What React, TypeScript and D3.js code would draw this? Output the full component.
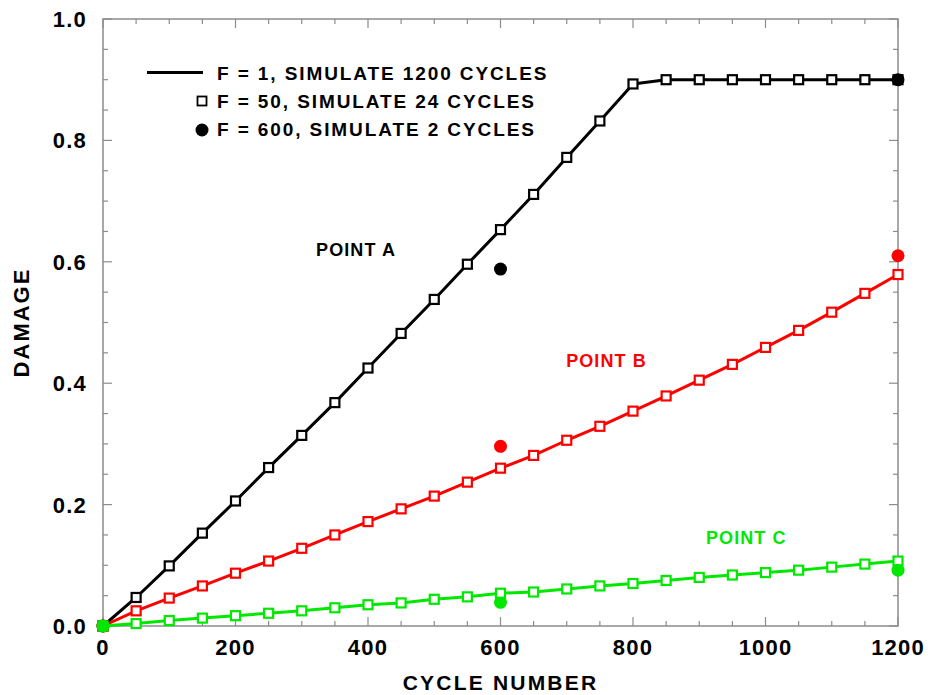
import React from 'react';
import * as d3 from 'd3';

// cycle numbers where the F = 50 results were written
const cycles = [0, 50, 100, 150, 200, 250, 300, 350, 400, 450, 500, 550, 600, 650, 700, 750, 800, 850, 900, 950, 1000, 1050, 1100, 1150, 1200];
const damageA = [0, 0.047, 0.099, 0.153, 0.206, 0.261, 0.314, 0.368, 0.425, 0.482, 0.538, 0.596, 0.653, 0.711, 0.772, 0.832, 0.893, 0.9, 0.9, 0.9, 0.9, 0.9, 0.9, 0.9, 0.9];
const damageB = [0, 0.025, 0.046, 0.066, 0.087, 0.107, 0.128, 0.15, 0.172, 0.193, 0.214, 0.237, 0.26, 0.281, 0.306, 0.329, 0.354, 0.379, 0.405, 0.431, 0.459, 0.487, 0.517, 0.548, 0.579];
const damageC = [0, 0.004, 0.009, 0.013, 0.017, 0.021, 0.025, 0.03, 0.035, 0.038, 0.044, 0.048, 0.054, 0.056, 0.061, 0.066, 0.07, 0.075, 0.08, 0.084, 0.088, 0.092, 0.097, 0.102, 0.107];

// F = 600 results
const coarseCycles = [0, 600, 1200];
const coarseA = [0, 0.588, 0.9];
const coarseB = [0, 0.296, 0.61];
const coarseC = [0, 0.039, 0.092];

const xTickLabels = [0, 200, 400, 600, 800, 1000, 1200];
const yTickLabels = [0, 0.2, 0.4, 0.6, 0.8, 1.0];
const legendLabels = ['F = 1, SIMULATE 1200 CYCLES', 'F = 50, SIMULATE 24 CYCLES', 'F = 600, SIMULATE 2 CYCLES'];

const series = [
    { name: 'POINT A', color: '#000000', fine: damageA, coarse: coarseA, labelAt: [382, 0.61] },
    { name: 'POINT B', color: '#ff0000', fine: damageB, coarse: coarseB, labelAt: [760, 0.427] },
    { name: 'POINT C', color: '#00e800', fine: damageC, coarse: coarseC, labelAt: [971, 0.135] },
];

const font = '"Liberation Sans", Arial, Helvetica, sans-serif';
const axisGray = '#8c8c8c';

export default function App() {
    const width = 930;
    const height = 695;
    const margin = { top: 19, right: 32, bottom: 69, left: 103 };

    const x = d3.scaleLinear().domain([0, 1200]).range([margin.left, width - margin.right]);
    const y = d3.scaleLinear().domain([0, 1]).range([height - margin.bottom, margin.top]);

    const line = d3.line<number>()
        .x((d, i) => x(cycles[i]))
        .y(d => y(d));

    const xMinor = d3.range(0, 1201, 50);
    const yMinor = d3.range(0, 1.0001, 0.05);
    const x0 = x(0), x1 = x(1200), y0 = y(0), y1 = y(1);
    const isMajorX = (v: number) => v % 200 === 0;
    const isMajorY = (v: number) => Math.abs(v * 5 - Math.round(v * 5)) < 1e-6;

    const sq = 9;

    return (
        <svg width={width} height={height} style={{ position: 'absolute', left: 0, top: 0, background: '#fff' }} fontFamily={font} fontWeight="bold">
            {/* frame */}
            <rect x={x0} y={y1} width={x1 - x0} height={y0 - y1} fill="none" stroke={axisGray} strokeWidth={1.5} />
            {xMinor.map(v => {
                const len = isMajorX(v) ? 9 : 5;
                return (
                    <g key={'xt' + v} stroke={axisGray} strokeWidth={1.2}>
                        <line x1={x(v)} x2={x(v)} y1={y0} y2={y0 - len} />
                        <line x1={x(v)} x2={x(v)} y1={y1} y2={y1 + len} />
                    </g>
                );
            })}
            {yMinor.map(v => {
                const len = isMajorY(v) ? 9 : 5;
                return (
                    <g key={'yt' + v} stroke={axisGray} strokeWidth={1.2}>
                        <line x1={x0} x2={x0 + len} y1={y(v)} y2={y(v)} />
                        <line x1={x1} x2={x1 - len} y1={y(v)} y2={y(v)} />
                    </g>
                );
            })}
            {xTickLabels.map(v => (
                <text key={'xl' + v} x={x(v)} y={y0 + 29} textAnchor="middle" fontSize={22} letterSpacing={1.2}>{v}</text>
            ))}
            {yTickLabels.map(v => (
                <text key={'yl' + v} x={x0 - 16} y={y(v) + 8} textAnchor="end" fontSize={22} letterSpacing={1.2}>{v.toFixed(1)}</text>
            ))}
            <text x={(x0 + x1) / 2} y={height - 5} textAnchor="middle" fontSize={21} letterSpacing={2.2}>CYCLE NUMBER</text>
            <text transform={`translate(29, ${(y0 + y1) / 2}) rotate(-90)`} textAnchor="middle" fontSize={22} letterSpacing={2}>DAMAGE</text>

            {/* series */}
            {series.map(s => (
                <g key={s.name}>
                    <path d={line(s.fine) || ''} fill="none" stroke={s.color} strokeWidth={3} strokeLinejoin="round" />
                    <circle cx={x(600)} cy={y(s.coarse[1])} r={6.5} fill={s.color} />
                    {s.fine.map((d, i) => (
                        <rect key={'s' + i} x={x(cycles[i]) - sq / 2} y={y(d) - sq / 2} width={sq} height={sq} fill="#fff" stroke={s.color} strokeWidth={2.2} />
                    ))}
                    {coarseCycles.map((c, i) => (c === 600 ? null :
                        <circle key={'d' + c} cx={x(c)} cy={y(s.coarse[i])} r={6.5} fill={s.color} />
                    ))}
                    <text x={x(s.labelAt[0])} y={y(s.labelAt[1])} textAnchor="middle" fontSize={18} letterSpacing={1.1} fill={s.color}>{s.name}</text>
                </g>
            ))}

            {/* legend */}
            <g>
                <line x1={147} x2={203} y1={72.5} y2={72.5} stroke="#000" strokeWidth={3} />
                <rect x={202 - 4.5} y={101 - 4.5} width={9} height={9} fill="#fff" stroke="#000" strokeWidth={1.8} />
                <circle cx={202} cy={130} r={6.5} fill="#000" />
                {legendLabels.map((t, i) => (
                    <text key={t} x={217} y={80 + i * 28.2} fontSize={19} letterSpacing={1.9}>{t}</text>
                ))}
            </g>
        </svg>
    );
}
